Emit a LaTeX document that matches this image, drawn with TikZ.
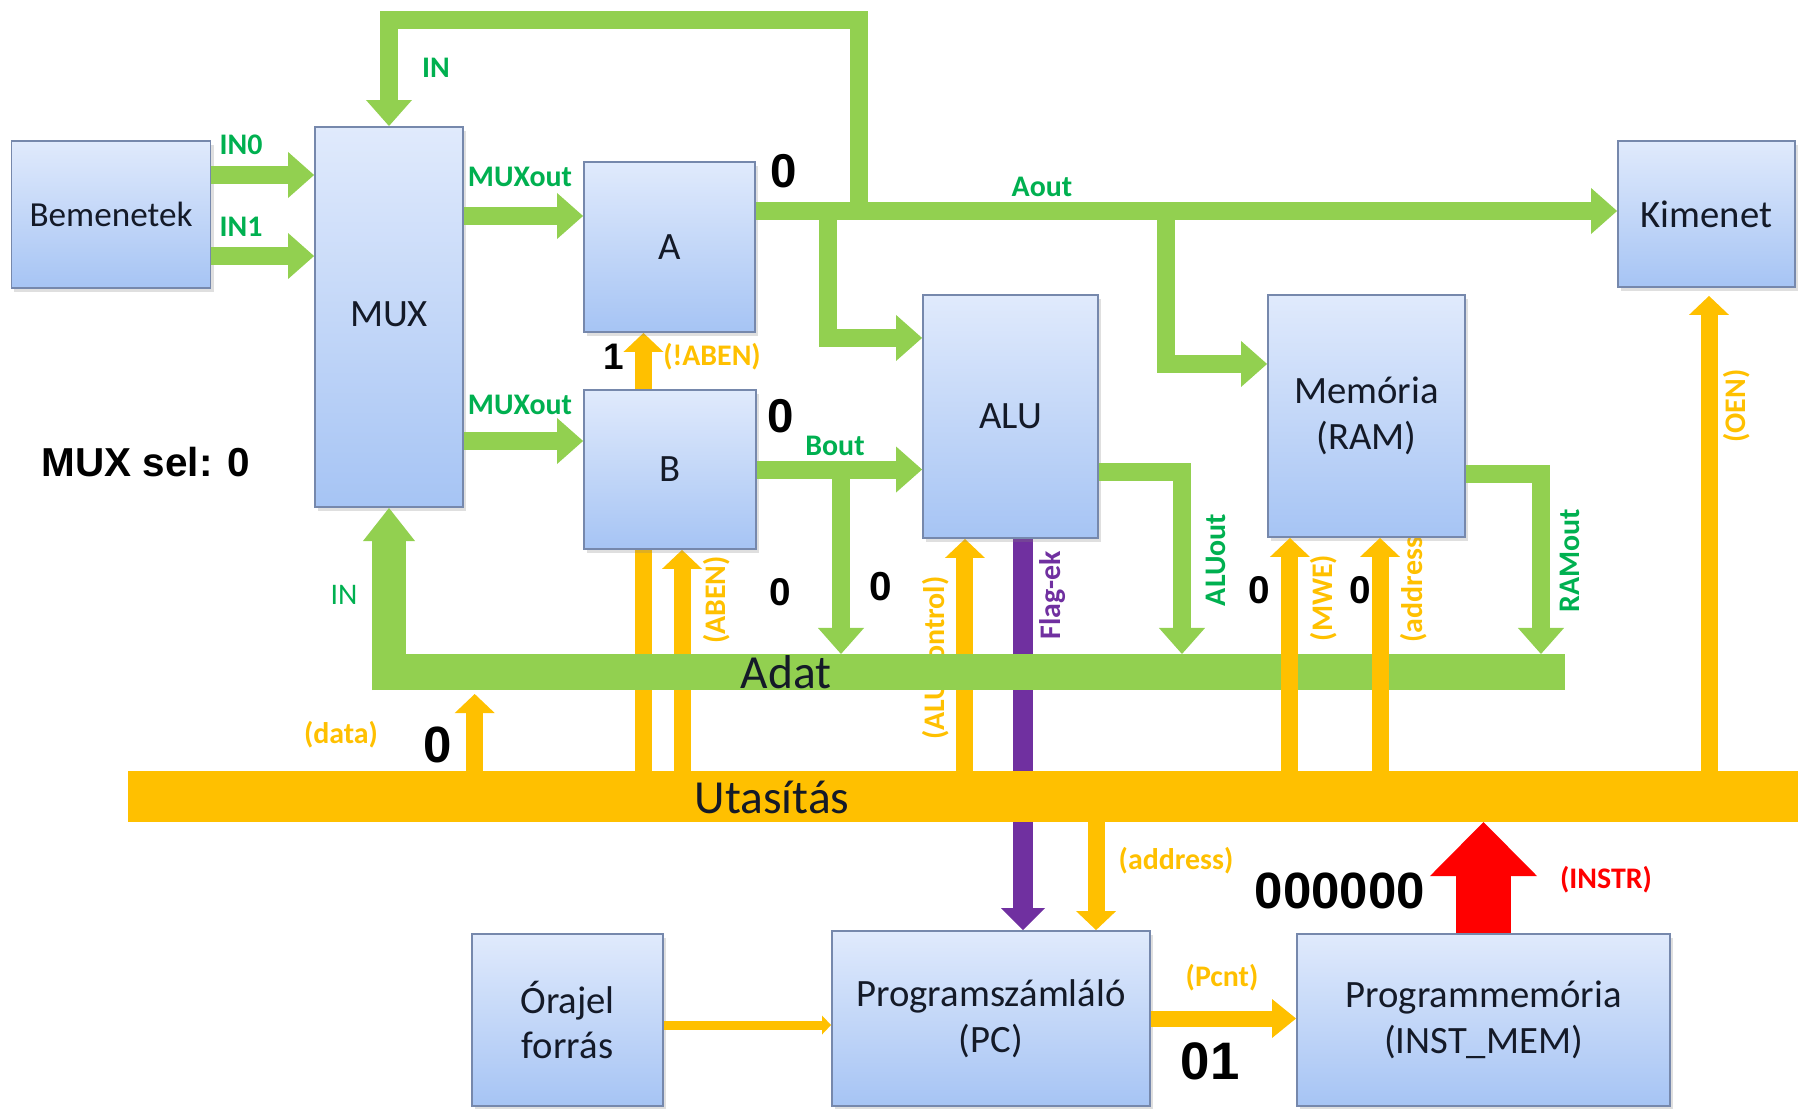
\documentclass[tikz,border=0pt]{standalone}
\usepackage{fontspec}
\setmainfont{Carlito}
\newfontfamily\digitfont{Liberation Sans}
\usepackage{tikz}
\usetikzlibrary{arrows.meta, positioning, calc, shadows}
\definecolor{busgreen}{RGB}{146, 208, 80}
\definecolor{labelgreen}{RGB}{0, 176, 80}
\definecolor{ctrlyellow}{RGB}{255, 192, 0}
\definecolor{flagpurple}{RGB}{112, 48, 160}
\definecolor{instrred}{RGB}{255, 0, 0}
\definecolor{boxtop}{RGB}{224, 234, 252}
\definecolor{boxbottom}{RGB}{166, 196, 244}
\definecolor{boxedge}{RGB}{118, 136, 172}
\definecolor{boxtext}{RGB}{20, 26, 40}
\pgfdeclarelayer{behind}
\pgfsetlayers{behind,main}

\tikzset{
  block/.style={draw=boxedge, line width=0.5pt, top color=boxtop, bottom color=boxbottom,
    text=boxtext, font=\fontsize{11}{13}\selectfont, align=center, inner sep=0pt,
    drop shadow={opacity=0.25, shadow xshift=0.03cm, shadow yshift=-0.04cm}},
  databus/.style={fill=busgreen, minimum width=11.93cm, minimum height=0.36cm, inner sep=0pt, outer sep=0pt},
  instrbus/.style={fill=ctrlyellow, minimum width=16.70cm, minimum height=0.51cm, inner sep=0pt, outer sep=0pt},
  buslabel/.style={text=boxtext, font=\fontsize{13.5}{15}\selectfont, inner sep=0pt},
  garrow/.style={draw=busgreen, line width=0.18cm, -{Triangle[width=0.46cm, length=0.26cm, line width=0pt]}},
  inarrow/.style={draw=busgreen, line width=0.34cm, -{Triangle[width=0.52cm, length=0.33cm, line width=0pt]}},
  yarrow/.style={draw=ctrlyellow, line width=0.17cm, -{Triangle[width=0.40cm, length=0.19cm, line width=0pt]}},
  flagarrow/.style={draw=flagpurple, line width=0.20cm, -{Triangle[width=0.44cm, length=0.22cm, line width=0pt]}},
  instrarrow/.style={draw=instrred, line width=0.55cm, -{Triangle[width=1.07cm, length=0.54cm, line width=0pt]}},
  pcntarrow/.style={draw=ctrlyellow, line width=0.16cm, -{Triangle[width=0.39cm, length=0.24cm, line width=0pt]}},
  clkarrow/.style={draw=ctrlyellow, line width=0.09cm, -{Triangle[width=0.19cm, length=0.09cm, line width=0pt]}},
  glabel/.style={text=labelgreen, font=\bfseries\fontsize{8.5}{10}\selectfont, inner sep=0pt},
  ylabel/.style={text=ctrlyellow, font=\bfseries\fontsize{8.5}{10}\selectfont, inner sep=0pt},
  bitval/.style={font=\digitfont\bfseries\fontsize{#1}{#1}\selectfont, inner sep=0pt}
}

\begin{document}
\begin{tikzpicture}[x=0.01cm, y=-0.01cm]
  \useasboundingbox (0,0) rectangle (1808,1108);
  % Blocks
  \node[block, font=\fontsize{10}{12}\selectfont, minimum width=1.99cm, minimum height=1.47cm] (bem) at (111,214.5) {Bemenetek};
  \node[block, minimum width=1.48cm, minimum height=3.80cm] (mux) at (389,317) {\raisebox{0.06cm}{MUX}};
  \node[block, minimum width=1.71cm, minimum height=1.70cm] (a) at (669.5,247) {A};
  \node[block, minimum width=1.72cm, minimum height=1.59cm] (b) at (670,469.5) {B};
  \node[block, minimum width=1.75cm, minimum height=2.43cm] (alu) at (1010.5,416.5) {ALU};
  \node[block, minimum width=1.97cm, minimum height=2.42cm] (ram) at (1366.5,416) {Memória\\(RAM)};
  \node[block, minimum width=1.77cm, minimum height=1.46cm] (kim) at (1706.5,214) {Kimenet};
  \node[block, minimum width=1.91cm, minimum height=1.72cm] (clk) at (567.5,1020) {Órajel\\forrás};
  \node[block, minimum width=3.18cm, minimum height=1.75cm] (pc) at (991,1018.5) {Programszámláló\\(PC)};
  \node[block, minimum width=3.73cm, minimum height=1.72cm] (prog) at (1483.5,1020) {Programmemória\\(INST\_MEM)};

  % Buses
  \node[databus] (adat) at (968.5,672) {};
  \node[instrbus] (utas) at (963,796.5) {};
  \node[buslabel] (adatlbl) at (786,672) {Adat};
  \node[buslabel] (utaslbl) at (772,797) {Utasítás};

  % Lines that run under the buses and boxes
  \begin{pgfonlayer}{behind}
    \draw[yarrow] ([xshift=-0.26cm]a.south |- utas.north) -- ([xshift=-0.26cm]a.south);
    \draw[yarrow] ([xshift=0.12cm]b.south |- utas.north) -- ([xshift=0.12cm]b.south);
    \draw[yarrow] ([xshift=-0.455cm]alu.south |- utas.north) -- ([xshift=-0.455cm]alu.south);
    \draw[flagarrow] ([xshift=0.125cm]alu.south) -- ([xshift=0.125cm]alu.south |- pc.north);
    \node[ylabel, rotate=90] (laluctl) at (936,658) {(ALU control)};
    \node[ylabel, rotate=90] (lramaddr) at (1414,585) {(address)};
  \end{pgfonlayer}

  % Green data paths
  \coordinate (loopsplit) at (859,211);
  \coordinate (looptop) at (859,20);
  \coordinate (alusplit) at (828,211);
  \coordinate (ramsplit) at (1166,211);
  \coordinate (boutsplit) at (841,470);
  \draw[garrow] ([yshift=0.395cm]bem.east) -- ([yshift=0.395cm]bem.east -| mux.west);
  \draw[garrow] ([yshift=-0.415cm]bem.east) -- ([yshift=-0.415cm]bem.east -| mux.west);
  \draw[garrow] ([yshift=0.31cm]a.west -| mux.east) -- ([yshift=0.31cm]a.west);
  \draw[garrow] ([yshift=0.285cm]b.west -| mux.east) -- ([yshift=0.285cm]b.west);
  \draw[garrow] ([yshift=0.36cm]a.east) -- ([yshift=0.36cm]a.east -| kim.west);
  \draw[garrow] (loopsplit) -- (looptop) -| (mux.north);
  \draw[garrow] (alusplit) |- ([yshift=0.785cm]alu.west);
  \draw[garrow] (ramsplit) |- ([yshift=0.52cm]ram.west);
  \draw[garrow] (b.east) -- (b.east -| alu.west);
  \draw[garrow] (boutsplit) -- (adat.north -| boutsplit);
  \draw[garrow] ([yshift=-0.555cm]alu.east) -| ([xshift=0.83cm]alu.east |- adat.north);
  \draw[garrow] ([yshift=-0.58cm]ram.east) -| ([xshift=0.75cm]ram.east |- adat.north);
  \draw[inarrow] (adat.south -| mux.south) -- (mux.south);

  % Control lines
  \draw[yarrow] ([xshift=-0.765cm]ram.south |- utas.north) -- ([xshift=-0.765cm]ram.south);
  \draw[yarrow] ([xshift=0.135cm]ram.south |- utas.north) -- ([xshift=0.135cm]ram.south);
  \draw[yarrow] ([xshift=0.025cm]kim.south |- utas.north) -- ([xshift=0.025cm, yshift=-0.08cm]kim.south);
  \draw[yarrow] ([xshift=1.03cm]adat.south west |- utas.north) -- ([xshift=1.03cm, yshift=-0.04cm]adat.south west);
  \draw[yarrow] ([xshift=1.05cm]pc.north |- utas.south) -- ([xshift=1.05cm]pc.north);
  \draw[instrarrow] (prog.north) -- (prog.north |- utas.south);
  \draw[pcntarrow] (pc.east) -- (pc.east -| prog.west);
  \draw[clkarrow] ([yshift=-0.05cm]clk.east) -- ([yshift=-0.05cm]clk.east -| pc.west);

  % Signal names
  \node[glabel] (lin0) at (241,145) {IN0};
  \node[glabel] (lin1) at (241,227) {IN1};
  \node[glabel] (lmuxa) at (520,177) {MUXout};
  \node[glabel] (lmuxb) at (520,405) {MUXout};
  \node[glabel] (lintop) at (436,68) {IN};
  \node[glabel, font=\fontsize{8.5}{10}\selectfont] (linbot) at (344,595) {IN};
  \node[glabel] (laout) at (1042,187) {Aout};
  \node[glabel] (lbout) at (835,446) {Bout};
  \node[glabel, rotate=90] (laluout) at (1216,560) {ALUout};
  \node[glabel, rotate=90] (lramout) at (1570,561) {RAMout};
  \node[ylabel] (lnaben) at (712,357) {(!ABEN)};
  \node[ylabel, rotate=90] (laben) at (717,600) {(ABEN)};
  \node[ylabel] (ldata) at (341,735) {(data)};
  \node[ylabel, rotate=90] (lmwe) at (1324,598) {(MWE)};
  \node[ylabel, rotate=90] (loen) at (1737,406) {(OEN)};
  \node[ylabel] (lpcaddr) at (1176,861) {(address)};
  \node[ylabel] (lpcnt) at (1222,978) {(Pcnt)};
  \node[glabel, text=flagpurple, rotate=90] (lflag) at (1053,595) {Flag-ek};
  \node[glabel, text=instrred] (linstr) at (1606,880) {(INSTR)};

  % Current values
  \node[bitval=11.5] (selval) at (146,462) {MUX sel: 0};
  \node[bitval=13.5] (aval) at (784,171) {0};
  \node[bitval=10.5] (nabenval) at (614,357) {1};
  \node[bitval=13.5] (bval) at (781,416) {0};
  \node[bitval=11] (abenval) at (780,592) {0};
  \node[bitval=11.5] (boutval) at (881,587) {0};
  \node[bitval=11] (mweval) at (1259,590) {0};
  \node[bitval=11] (ramaddrval) at (1360,590) {0};
  \node[bitval=14.5] (dataval) at (438,745) {0};
  \node[bitval=14.5] (instrval) at (1340,891) {000000};
  \node[bitval=15] (pcntval) at (1210,1061) {01};
\end{tikzpicture}
\end{document}
